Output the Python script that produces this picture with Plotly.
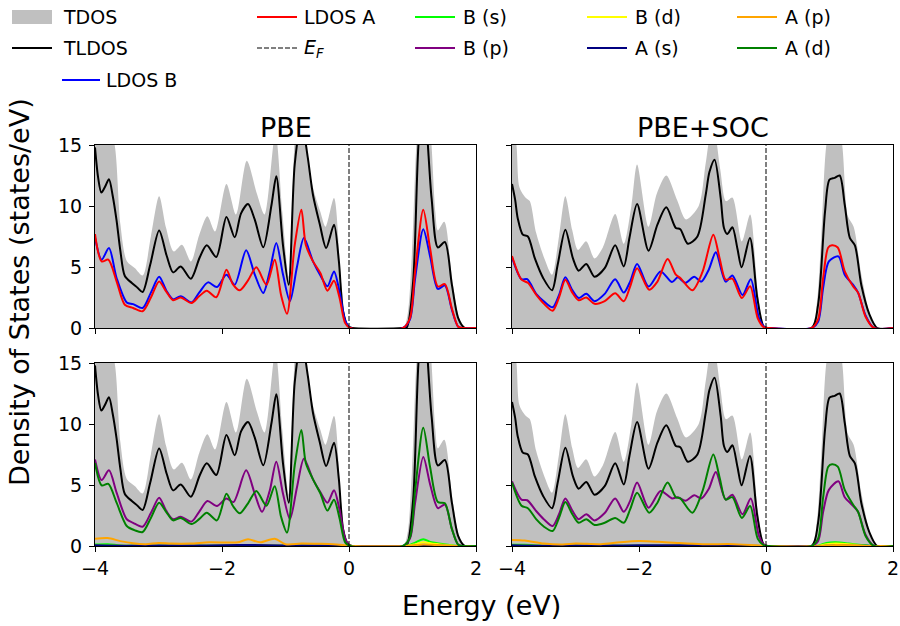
import plotly.graph_objects as go

W, H = 900, 626

# ================= DATA =================
energy_ticks = [-4, -2, 0, 2]
dos_ticks = [0, 5, 10, 15]
panel_titles = ["PBE", "PBE+SOC"]

# ---------- PBE ----------
pbe_tdos_e = [-4.0, -3.9, -3.8, -3.69, -3.6, -3.5, -3.37, -3.25, -3.12, -2.99, -2.88, -2.76, -2.63, -2.49, -2.36, -2.23, -2.11, -1.93, -1.78, -1.61, -1.45, -1.33, -1.16, -1.05, -0.95, -0.85, -0.75, -0.65, -0.567, -0.45, -0.37, -0.236, -0.12, -0.03, 0.05, 0.85, 0.92, 0.99, 1.06, 1.18, 1.30, 1.36, 1.40, 1.50, 1.62, 1.72, 1.80, 2.0]
pbe_tdos = [20, 15.5, 17, 15, 8.5, 5.5, 4.9, 4.3, 7.5, 10.8, 8.2, 6.28, 6.83, 5.46, 7.6, 9.15, 7.9, 11.8, 9.3, 13.7, 11.0, 9.3, 16.0, 9.5, 4.2, 16.0, 21.0, 14.0, 11.5, 9.5, 8.3, 10.66, 3.5, 0.3, 0, 0, 1.0, 6.0, 15.0, 24.0, 15.0, 9.5, 8.0, 8.7, 4.2, 1.1, 0, 0]

pbe_tldos_e = [-4.0, -3.95, -3.9, -3.84, -3.78, -3.72, -3.66, -3.6, -3.53, -3.42, -3.33, -3.25, -3.13, -2.99, -2.87, -2.77, -2.65, -2.49, -2.35, -2.24, -2.09, -1.93, -1.80, -1.70, -1.59, -1.485, -1.35, -1.22, -1.145, -1.04, -0.95, -0.855, -0.75, -0.65, -0.567, -0.46, -0.36, -0.236, -0.16, -0.094, -0.016, 0.05, 0.85, 0.91, 1.01, 1.10, 1.18, 1.30, 1.40, 1.51, 1.62, 1.72, 1.82, 2.0]
pbe_tldos = [14.8, 12.3, 11.1, 11.6, 12.2, 10.8, 8.8, 6.3, 4.26, 3.69, 3.3, 2.95, 5.2, 8.0, 5.9, 4.56, 5.05, 4.04, 5.8, 6.78, 5.82, 9.1, 7.43, 9.4, 10.16, 8.9, 6.61, 10.1, 12.43, 6.8, 3.55, 13.4, 17.0, 14.0, 10.9, 8.5, 6.56, 8.47, 5.5, 1.4, 0.15, 0, 0, 0.05, 3.8, 15.5, 18.5, 10.66, 6.6, 7.05, 3.55, 0.8, 0, 0]

pbe_ldos_a_e = [-4.0, -3.895, -3.79, -3.66, -3.53, -3.40, -3.25, -3.12, -2.99, -2.88, -2.77, -2.65, -2.48, -2.36, -2.24, -2.09, -1.93, -1.83, -1.72, -1.59, -1.46, -1.30, -1.17, -1.07, -0.976, -0.855, -0.75, -0.68, -0.567, -0.45, -0.34, -0.236, -0.15, -0.06, 0.02, 0.85, 0.96, 1.04, 1.17, 1.276, 1.40, 1.51, 1.62, 1.72, 1.80, 2.0]
pbe_ldos_a = [7.7, 5.46, 5.6, 3.82, 1.9, 1.64, 1.37, 2.5, 3.82, 3.0, 2.27, 2.5, 2.05, 2.6, 3.06, 2.52, 4.78, 3.6, 3.09, 3.9, 4.97, 3.55, 5.6, 2.7, 1.17, 6.8, 9.7, 6.8, 5.46, 4.5, 3.06, 3.88, 2.5, 0.4, 0, 0, 0.8, 4.6, 9.7, 6.56, 3.4, 3.6, 1.6, 0.1, 0, 0]

pbe_ldos_b_e = [-4.0, -3.895, -3.78, -3.66, -3.50, -3.40, -3.25, -3.12, -2.99, -2.88, -2.77, -2.65, -2.48, -2.36, -2.22, -2.08, -1.93, -1.80, -1.62, -1.485, -1.35, -1.25, -1.145, -1.04, -0.93, -0.82, -0.71, -0.567, -0.45, -0.34, -0.236, -0.15, -0.06, 0.02, 0.85, 0.96, 1.04, 1.17, 1.28, 1.40, 1.51, 1.62, 1.72, 1.80, 2.0]
pbe_ldos_b = [7.4, 5.6, 6.56, 4.1, 2.1, 1.96, 1.64, 2.9, 4.2, 3.1, 2.35, 2.6, 2.1, 2.9, 3.74, 3.36, 4.37, 3.55, 6.37, 4.4, 2.87, 4.6, 6.97, 4.4, 2.19, 5.0, 7.38, 5.46, 4.3, 3.42, 4.64, 3.0, 0.6, 0, 0, 0.7, 4.0, 8.1, 5.8, 3.2, 3.5, 1.5, 0.1, 0, 0]

pbe_bp_e = [-4.0, -3.895, -3.78, -3.66, -3.50, -3.40, -3.25, -3.12, -2.99, -2.88, -2.77, -2.65, -2.48, -2.36, -2.23, -2.08, -1.93, -1.82, -1.62, -1.485, -1.37, -1.25, -1.145, -1.04, -0.93, -0.82, -0.71, -0.567, -0.45, -0.34, -0.236, -0.15, -0.06, 0.02, 0.85, 0.96, 1.04, 1.17, 1.28, 1.40, 1.51, 1.62, 1.72, 1.80, 2.0]
pbe_bp = [7.1, 5.4, 6.2, 4.37, 2.19, 1.9, 1.58, 2.7, 3.96, 2.9, 2.19, 2.4, 2.0, 2.8, 3.69, 3.28, 3.9, 3.6, 6.2, 4.3, 2.8, 4.5, 6.9, 4.3, 2.2, 4.8, 7.16, 5.46, 4.4, 3.55, 4.57, 3.0, 0.6, 0, 0, 0.6, 3.5, 7.3, 5.0, 3.1, 3.4, 1.4, 0.1, 0, 0]

pbe_ad_e = [-4.0, -3.895, -3.79, -3.66, -3.50, -3.38, -3.25, -3.12, -2.99, -2.88, -2.77, -2.65, -2.48, -2.36, -2.24, -2.08, -1.93, -1.83, -1.72, -1.59, -1.46, -1.30, -1.17, -1.07, -0.976, -0.855, -0.75, -0.68, -0.567, -0.45, -0.34, -0.236, -0.15, -0.06, 0.02, 0.85, 0.96, 1.04, 1.17, 1.276, 1.40, 1.51, 1.62, 1.72, 1.80, 2.0]
pbe_ad = [6.8, 4.97, 5.1, 3.55, 1.64, 1.3, 1.15, 2.3, 3.55, 2.8, 2.1, 2.3, 1.8, 2.2, 2.73, 2.1, 4.29, 3.3, 2.68, 3.5, 4.5, 3.3, 4.9, 2.4, 1.1, 6.6, 9.5, 6.8, 5.46, 4.3, 2.9, 3.8, 2.3, 0.3, 0, 0, 0.7, 4.5, 9.7, 6.5, 3.6, 3.5, 1.4, 0.1, 0, 0]

pbe_ap_e = [-4.0, -3.8, -3.6, -3.4, -3.2, -3.0, -2.8, -2.5, -2.2, -1.9, -1.75, -1.59, -1.4, -1.17, -1.0, -0.75, -0.5, -0.25, -0.05, 0.05, 0.9, 1.17, 1.45, 1.7, 2.0]
pbe_ap = [0.6, 0.65, 0.4, 0.22, 0.15, 0.25, 0.2, 0.2, 0.3, 0.28, 0.3, 0.55, 0.3, 0.6, 0.15, 0.2, 0.18, 0.15, 0.05, 0, 0, 0.12, 0.05, 0, 0]

pbe_bs_e = [-4.0, -3.8, -3.6, -3.3, -3.0, -2.5, -2.0, -1.5, -1.0, -0.5, -0.05, 0.05, 0.9, 1.05, 1.17, 1.3, 1.5, 1.7, 2.0]
pbe_bs = [0.12, 0.15, 0.05, 0.02, 0.03, 0.02, 0.02, 0.02, 0.02, 0.02, 0, 0, 0, 0.3, 0.55, 0.3, 0.15, 0, 0]

pbe_bd_e = [-4.0, -3.0, -2.0, -1.0, -0.05, 0.05, 0.9, 1.05, 1.17, 1.3, 1.5, 1.7, 2.0]
pbe_bd = [0.03, 0.03, 0.03, 0.03, 0, 0, 0, 0.15, 0.3, 0.2, 0.1, 0, 0]

pbe_as_e = [-4.0, -3.5, -3.0, -2.5, -2.0, -1.5, -1.0, -0.5, -0.05, 0.05, 0.9, 1.17, 1.5, 1.7, 2.0]
pbe_as = [0.06, 0.03, 0.05, 0.04, 0.06, 0.08, 0.05, 0.05, 0, 0, 0, 0.05, 0.02, 0, 0]

# ---------- PBE+SOC ----------
soc_tdos_e = [-4.0, -3.93, -3.88, -3.78, -3.72, -3.62, -3.49, -3.37, -3.26, -3.16, -3.05, -2.96, -2.83, -2.70, -2.57, -2.375, -2.24, -2.12, -2.03, -1.85, -1.72, -1.57, -1.40, -1.26, -1.06, -0.95, -0.84, -0.72, -0.63, -0.53, -0.38, -0.25, -0.13, -0.03, 0.05, 0.72, 0.80, 0.87, 0.95, 1.08, 1.20, 1.29, 1.38, 1.50, 1.63, 1.72, 2.0]
soc_tdos = [17, 15, 11.5, 10.66, 10.4, 7.8, 5.7, 4.37, 7.5, 10.8, 8.0, 6.4, 7.1, 5.7, 6.6, 9.34, 6.9, 10.0, 13.4, 8.3, 11.0, 12.5, 10.5, 8.9, 10.0, 13.5, 17.0, 13.0, 10.4, 10.7, 7.1, 9.3, 3.0, 0.2, 0, 0, 2.0, 7.4, 15.0, 18.5, 15.0, 9.15, 8.3, 4.4, 1.2, 0, 0]

soc_tldos_e = [-4.0, -3.95, -3.91, -3.83, -3.75, -3.64, -3.51, -3.37, -3.28, -3.16, -3.04, -2.95, -2.83, -2.70, -2.54, -2.375, -2.24, -2.15, -2.03, -1.85, -1.71, -1.57, -1.42, -1.35, -1.23, -1.08, -0.95, -0.89, -0.81, -0.714, -0.662, -0.61, -0.53, -0.45, -0.384, -0.253, -0.137, -0.033, 0.05, 0.72, 0.82, 0.93, 1.00, 1.08, 1.16, 1.24, 1.32, 1.40, 1.50, 1.63, 1.75, 2.0]
soc_tldos = [11.8, 10.5, 9.0, 7.65, 7.5, 5.7, 4.1, 3.1, 5.2, 8.06, 5.7, 4.7, 5.25, 4.2, 4.9, 6.78, 5.05, 7.4, 10.16, 6.34, 8.47, 9.89, 8.2, 8.1, 6.9, 7.5, 10.9, 12.8, 13.8, 10.66, 8.2, 7.7, 8.25, 6.5, 4.97, 7.38, 2.46, 0.1, 0, 0, 1.9, 9.56, 12.16, 12.3, 12.5, 10.1, 7.38, 6.78, 3.55, 1.1, 0, 0]

soc_ldos_a_e = [-4.0, -3.85, -3.75, -3.62, -3.5, -3.36, -3.26, -3.16, -3.05, -2.95, -2.83, -2.70, -2.54, -2.375, -2.24, -2.14, -2.03, -1.84, -1.71, -1.55, -1.42, -1.35, -1.16, -1.0, -0.83, -0.73, -0.635, -0.53, -0.38, -0.25, -0.13, -0.03, 0.05, 0.72, 0.82, 0.90, 0.98, 1.04, 1.13, 1.24, 1.37, 1.45, 1.57, 1.70, 2.0]
soc_ldos_a = [5.9, 3.96, 3.7, 2.73, 2.0, 1.42, 2.5, 3.96, 2.9, 2.27, 2.5, 1.98, 2.2, 2.84, 2.2, 3.4, 4.9, 3.14, 3.8, 5.65, 4.37, 4.1, 3.09, 4.6, 7.65, 5.7, 3.96, 4.05, 2.46, 3.42, 0.8, 0.05, 0, 0, 0.7, 4.1, 6.6, 6.78, 6.6, 4.64, 3.42, 2.9, 0.9, 0, 0]

soc_ldos_b_e = [-4.0, -3.85, -3.76, -3.62, -3.5, -3.36, -3.26, -3.16, -3.05, -2.95, -2.83, -2.70, -2.54, -2.375, -2.24, -2.14, -2.03, -1.85, -1.66, -1.48, -1.39, -1.27, -1.13, -1.02, -0.90, -0.79, -0.635, -0.53, -0.37, -0.24, -0.11, -0.02, 0.05, 0.72, 0.82, 0.90, 0.99, 1.14, 1.24, 1.37, 1.45, 1.57, 1.70, 2.0]
soc_ldos_b = [5.8, 4.0, 4.0, 2.8, 2.2, 1.7, 2.7, 4.15, 3.1, 2.46, 2.8, 2.2, 2.8, 4.0, 2.9, 3.8, 5.25, 3.4, 4.64, 3.77, 4.15, 3.7, 4.2, 3.8, 4.8, 6.2, 3.8, 4.3, 2.7, 4.0, 0.8, 0.05, 0, 0, 0.5, 3.3, 5.46, 5.87, 4.37, 3.55, 2.9, 1.0, 0, 0]

soc_bp_e = [-4.0, -3.85, -3.76, -3.62, -3.5, -3.36, -3.26, -3.16, -3.05, -2.95, -2.83, -2.70, -2.54, -2.375, -2.24, -2.14, -2.03, -1.85, -1.66, -1.48, -1.39, -1.27, -1.13, -1.02, -0.90, -0.79, -0.635, -0.53, -0.37, -0.24, -0.11, -0.02, 0.05, 0.72, 0.82, 0.90, 0.99, 1.14, 1.24, 1.37, 1.45, 1.57, 1.70, 2.0]
soc_bp = [5.3, 3.8, 3.75, 2.87, 2.2, 1.64, 2.6, 3.9, 2.9, 2.2, 2.6, 2.1, 2.7, 3.9, 2.8, 3.7, 5.2, 3.14, 4.5, 3.9, 4.0, 3.7, 4.15, 3.9, 4.7, 6.07, 3.8, 4.2, 2.6, 3.9, 0.8, 0.05, 0, 0, 0.4, 2.8, 4.6, 5.3, 4.0, 3.3, 2.8, 0.9, 0, 0]

soc_ad_e = [-4.0, -3.85, -3.75, -3.62, -3.5, -3.36, -3.26, -3.16, -3.05, -2.95, -2.83, -2.70, -2.54, -2.375, -2.24, -2.14, -2.03, -1.84, -1.71, -1.55, -1.42, -1.35, -1.16, -1.0, -0.83, -0.73, -0.635, -0.53, -0.38, -0.25, -0.13, -0.03, 0.05, 0.72, 0.82, 0.90, 0.98, 1.04, 1.13, 1.24, 1.37, 1.45, 1.57, 1.70, 2.0]
soc_ad = [5.2, 3.3, 3.1, 2.2, 1.6, 1.23, 2.3, 3.6, 2.6, 1.9, 2.2, 1.72, 1.9, 2.3, 1.9, 3.0, 4.37, 2.73, 3.55, 5.2, 4.0, 3.9, 2.73, 4.5, 7.5, 5.6, 3.8, 4.0, 2.3, 3.28, 0.6, 0.05, 0, 0, 0.6, 4.0, 6.5, 6.7, 6.5, 4.6, 3.4, 2.8, 0.8, 0, 0]

soc_ap_e = [-4.0, -3.8, -3.5, -3.2, -3.0, -2.6, -2.3, -2.0, -1.7, -1.4, -1.0, -0.5, -0.05, 0.05, 0.9, 1.1, 1.4, 1.7, 2.0]
soc_ap = [0.5, 0.45, 0.2, 0.12, 0.2, 0.15, 0.3, 0.4, 0.35, 0.25, 0.15, 0.15, 0.03, 0, 0, 0.08, 0.04, 0, 0]

soc_bs_e = [-4.0, -3.8, -3.5, -3.0, -2.0, -1.0, -0.05, 0.05, 0.8, 0.95, 1.1, 1.3, 1.5, 1.7, 2.0]
soc_bs = [0.1, 0.1, 0.03, 0.02, 0.02, 0.02, 0, 0, 0, 0.25, 0.3, 0.2, 0.08, 0, 0]

soc_bd_e = [-4.0, -3.0, -2.0, -1.0, -0.05, 0.05, 0.8, 0.95, 1.1, 1.3, 1.5, 1.7, 2.0]
soc_bd = [0.03, 0.03, 0.03, 0.03, 0, 0, 0, 0.15, 0.2, 0.15, 0.05, 0, 0]

soc_as_e = [-4.0, -3.5, -3.0, -2.5, -2.0, -1.5, -1.0, -0.5, -0.05, 0.05, 0.8, 1.1, 1.5, 1.7, 2.0]
soc_as = [0.06, 0.03, 0.05, 0.04, 0.06, 0.07, 0.05, 0.05, 0, 0, 0, 0.04, 0.02, 0, 0]

# ================= STYLE =================
FONT = "DejaVu Sans"
C = dict(tdos="#c0c0c0", tldos="black", ldos_b="blue", ldos_a="red",
         bs="#00ff00", bp="purple", bd="yellow", as_="navy", ap="orange", ad="green")
LW = 2.0
TICK_FS = 19
LABEL_FS = 27
TITLE_FS = 27
LEG_FS = 19


def px(x):
    """pixel column -> paper fraction"""
    return x / W


def py(y):
    return 1 - y / H


fig = go.Figure()


def line(xs, ys, color, ax, ay):
    assert len(xs) == len(ys)
    fig.add_trace(go.Scatter(x=xs, y=ys, mode="lines", xaxis=ax, yaxis=ay,
                             line=dict(color=color, width=LW, shape="spline", smoothing=0.8),
                             showlegend=False, hoverinfo="skip"))


def fill(xs, ys, ax, ay):
    assert len(xs) == len(ys)
    fig.add_trace(go.Scatter(x=xs, y=ys, mode="lines", xaxis=ax, yaxis=ay, fill="tozeroy",
                             fillcolor=C["tdos"],
                             line=dict(color=C["tdos"], width=0, shape="spline", smoothing=0.8),
                             showlegend=False, hoverinfo="skip"))


panels = [
    ("x", "y", "pbe", "ldos"),
    ("x2", "y2", "soc", "ldos"),
    ("x3", "y3", "pbe", "orb"),
    ("x4", "y4", "soc", "orb"),
]
D = {
    "pbe": dict(tdos=(pbe_tdos_e, pbe_tdos), tldos=(pbe_tldos_e, pbe_tldos),
                ldos_a=(pbe_ldos_a_e, pbe_ldos_a), ldos_b=(pbe_ldos_b_e, pbe_ldos_b),
                bs=(pbe_bs_e, pbe_bs), bp=(pbe_bp_e, pbe_bp), bd=(pbe_bd_e, pbe_bd),
                as_=(pbe_as_e, pbe_as), ap=(pbe_ap_e, pbe_ap), ad=(pbe_ad_e, pbe_ad)),
    "soc": dict(tdos=(soc_tdos_e, soc_tdos), tldos=(soc_tldos_e, soc_tldos),
                ldos_a=(soc_ldos_a_e, soc_ldos_a), ldos_b=(soc_ldos_b_e, soc_ldos_b),
                bs=(soc_bs_e, soc_bs), bp=(soc_bp_e, soc_bp), bd=(soc_bd_e, soc_bd),
                as_=(soc_as_e, soc_as), ap=(soc_ap_e, soc_ap), ad=(soc_ad_e, soc_ad)),
}

for ax, ay, key, kind in panels:
    d = D[key]
    fill(*d["tdos"], ax, ay)
    line(*d["tldos"], C["tldos"], ax, ay)
    if kind == "ldos":
        line(*d["ldos_b"], C["ldos_b"], ax, ay)
        line(*d["ldos_a"], C["ldos_a"], ax, ay)
    else:
        for s in ["bs", "bp", "bd", "as_", "ap", "ad"]:
            line(*d[s], C[s], ax, ay)

# ================= AXES =================
xdom_l = [px(95), px(476)]
xdom_r = [px(512), px(893)]
ydom_t = [py(328), py(145)]
ydom_b = [py(546), py(363)]

common = dict(showline=True, linecolor="black", linewidth=1, mirror=True,
              ticks="outside", ticklen=5, tickwidth=1, tickcolor="black",
              showgrid=False, zeroline=False, automargin=False,
              tickfont=dict(family=FONT, size=TICK_FS, color="black"))


def xax(dom, anchor, labels):
    return dict(common, domain=dom, anchor=anchor, range=[-4, 2],
                tickvals=energy_ticks, showticklabels=labels)


def yax(dom, anchor, labels):
    return dict(common, domain=dom, anchor=anchor, range=[0, 15],
                tickvals=dos_ticks, showticklabels=labels, ticklabelstandoff=3)


fig.update_layout(
    xaxis=xax(xdom_l, "y", False), yaxis=yax(ydom_t, "x", True),
    xaxis2=xax(xdom_r, "y2", False), yaxis2=yax(ydom_t, "x2", False),
    xaxis3=xax(xdom_l, "y3", True), yaxis3=yax(ydom_b, "x3", True),
    xaxis4=xax(xdom_r, "y4", True), yaxis4=yax(ydom_b, "x4", False),
)

shapes = []
for ax, ay in [("x", "y"), ("x2", "y2"), ("x3", "y3"), ("x4", "y4")]:
    shapes.append(dict(type="line", xref=ax, yref=ay + " domain", x0=0, x1=0, y0=0, y1=1,
                       line=dict(color="black", width=1, dash="5px,2px"), layer="above"))

annotations = []


def text(t, x, y, size, angle=0, xanchor="center"):
    annotations.append(dict(text=t, x=px(x), y=py(y), xref="paper", yref="paper",
                            xanchor=xanchor, yanchor="middle", textangle=angle,
                            borderpad=0, borderwidth=0,
                            showarrow=False, font=dict(family=FONT, size=size, color="black")))


text(panel_titles[0], 285.5, 127, TITLE_FS)
text(panel_titles[1], 702.5, 127, TITLE_FS)
text("Energy (eV)", 481, 605, LABEL_FS)
text("Density of States (states/eV)", 19, 292, LABEL_FS, angle=-90)

# ================= LEGEND (manual, matplotlib style) =================
legend_items = [
    ("TDOS", "patch", C["tdos"], 12, 17, 63),
    ("TLDOS", "line", C["tldos"], 12, 48, 63),
    ("LDOS B", "line", C["ldos_b"], 62, 80, 106),
    ("LDOS A", "line", C["ldos_a"], 257, 17, 304),
    ("<i>E<sub>F</sub></i>", "dash", "black", 257, 48, 304),
    ("B (s)", "line", C["bs"], 415, 17, 463),
    ("B (p)", "line", C["bp"], 415, 48, 463),
    ("B (d)", "line", C["bd"], 587, 17, 635),
    ("A (s)", "line", C["as_"], 587, 48, 635),
    ("A (p)", "line", C["ap"], 737, 17, 785),
    ("A (d)", "line", C["ad"], 737, 48, 785),
]
for label, kind, color, xs, yc, tx in legend_items:
    x0 = xs
    x1 = xs + (38 if label == "LDOS B" else 40)
    if kind == "patch":
        shapes.append(dict(type="rect", xref="paper", yref="paper", x0=px(x0), x1=px(x1),
                           y0=py(yc + 7), y1=py(yc - 7), fillcolor=color, line=dict(width=0)))
    else:
        shapes.append(dict(type="line", xref="paper", yref="paper", x0=px(x0), x1=px(x1),
                           y0=py(yc), y1=py(yc),
                           line=dict(color=color, width=LW if kind == "line" else 1,
                                     dash="solid" if kind == "line" else "5px,2px")))
    text(label, tx, yc, LEG_FS, xanchor="left")

fig.update_layout(
    width=W, height=H,
    margin=dict(l=0, r=0, t=0, b=0, autoexpand=False),
    paper_bgcolor="white", plot_bgcolor="white",
    showlegend=False, hovermode=False,
    shapes=shapes, annotations=annotations,
    font=dict(family=FONT, color="black"),
)

# remove the browser's default 8px body margin so the figure fills the window
fig.write_html("out.html", config={"displayModeBar": False, "staticPlot": True},
               post_script="document.body.style.margin='0px';")
